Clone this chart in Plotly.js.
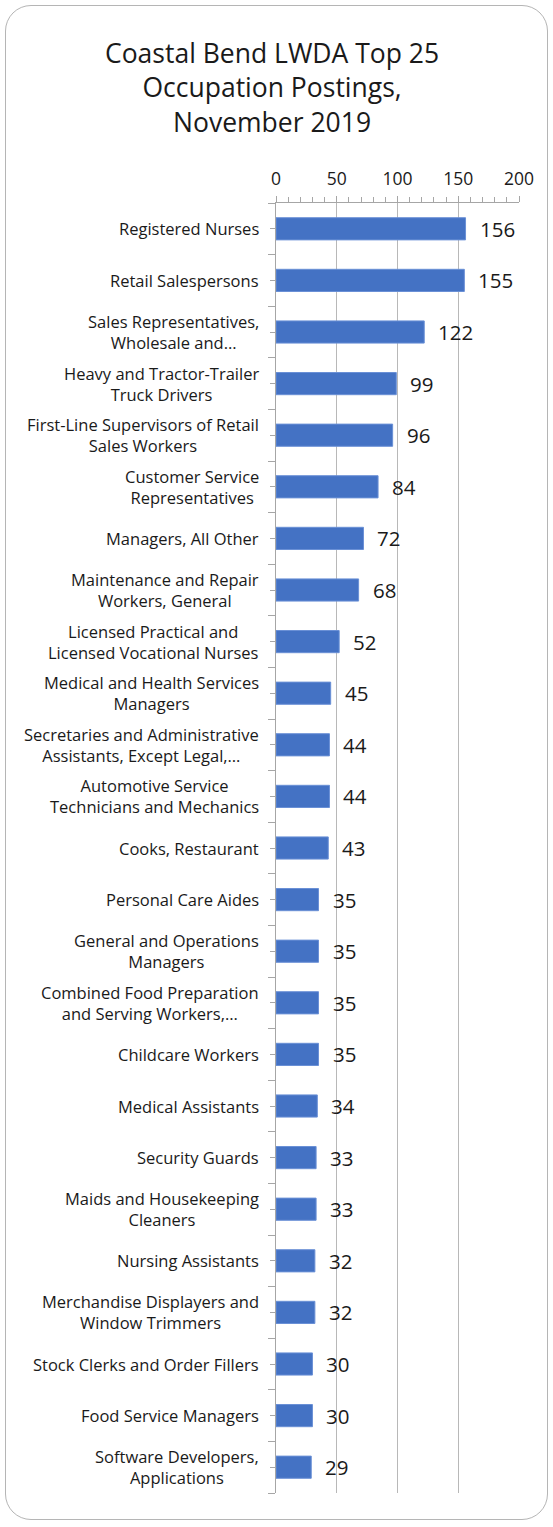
<!DOCTYPE html>
<html>
<head>
<meta charset="utf-8">
<script src="https://cdn.plot.ly/plotly-3.0.1.min.js"></script>
<style>
  html, body { margin: 0; padding: 0; background: #fff; }
  #wrap { position: relative; width: 553px; height: 1527px; }
  #chart { position: absolute; left: 0; top: 0; width: 553px; height: 1527px; }
  #frame { position: absolute; left: 5px; top: 5px; width: 541px; height: 1513px;
           border: 1.5px solid #b5b5b5; border-radius: 26px; pointer-events: none; }
</style>
</head>
<body>
<div id="wrap">
  <div id="chart"></div>
  <div id="frame"></div>
</div>
<script>
const categories = [
  "Registered Nurses",
  "Retail Salespersons",
  "Sales Representatives,<br>Wholesale and…",
  "Heavy and Tractor-Trailer<br>Truck Drivers",
  "First-Line Supervisors of Retail<br>Sales Workers",
  "Customer Service<br>Representatives",
  "Managers, All Other",
  "Maintenance and Repair<br>Workers, General",
  "Licensed Practical and<br>Licensed Vocational Nurses",
  "Medical and Health Services<br>Managers",
  "Secretaries and Administrative<br>Assistants, Except Legal,…",
  "Automotive Service<br>Technicians and Mechanics",
  "Cooks, Restaurant",
  "Personal Care Aides",
  "General and Operations<br>Managers",
  "Combined Food Preparation<br>and Serving Workers,…",
  "Childcare Workers",
  "Medical Assistants",
  "Security Guards",
  "Maids and Housekeeping<br>Cleaners",
  "Nursing Assistants",
  "Merchandise Displayers and<br>Window Trimmers",
  "Stock Clerks and Order Fillers",
  "Food Service Managers",
  "Software Developers,<br>Applications"
];
const postings = [156, 155, 122, 99, 96, 84, 72, 68, 52, 45, 44, 44, 43, 35, 35, 35, 35, 34, 33, 33, 32, 32, 30, 30, 29];
const xTickValues = [0, 50, 100, 150, 200];

const positions = categories.map((_, i) => i);
const FONT = "'Open Sans', sans-serif";
const TEXT = '#1a1a1a';

const trace = {
  type: 'bar',
  orientation: 'h',
  x: postings,
  y: positions,
  width: 0.43,
  marker: { color: '#4472C4', line: { color: '#6a90d6', width: 1 } },
  hoverinfo: 'none'
};

const valueLabels = postings.map((v, i) => ({
  x: v, y: i, xref: 'x', yref: 'y',
  text: String(v), showarrow: false,
  xanchor: 'left', yanchor: 'middle', xshift: 12, yshift: 0,
  font: { family: FONT, size: 20.5, color: TEXT }
}));

const categoryLabels = categories.map((c, i) => ({
  x: 0, y: i, xref: 'x', yref: 'y',
  text: c, showarrow: false, align: 'center',
  xanchor: 'right', yanchor: 'middle', xshift: -15,
  font: { family: FONT, size: 16.5, color: TEXT }
}));

const layout = {
  width: 553, height: 1527,
  margin: { l: 276, r: 34, t: 203, b: 34 },
  paper_bgcolor: '#fff', plot_bgcolor: '#fff',
  showlegend: false,
  title: {
    text: 'Coastal Bend LWDA Top 25<br>Occupation Postings,<br>November 2019',
    font: { family: FONT, size: 26.5, color: TEXT },
    x: 0.492, xanchor: 'center', xref: 'container',
    y: 1 - 63 / 1527, yanchor: 'middle', yref: 'container'
  },
  xaxis: {
    side: 'top', range: [0, 200],
    tickmode: 'array', tickvals: xTickValues,
    ticks: 'outside', ticklen: 6, tickcolor: '#a6a6a6', tickwidth: 1,
    minor: { ticks: 'outside', ticklen: 5, dtick: 10, tick0: 0, tickcolor: '#a6a6a6', showgrid: false },
    showline: true, linecolor: '#a6a6a6', linewidth: 1,
    showgrid: true, gridcolor: '#b8b8b8', gridwidth: 1,
    zeroline: false,
    tickfont: { family: FONT, size: 17.5, color: TEXT },
    ticklabelstandoff: 4,
    fixedrange: true
  },
  yaxis: {
    range: [24.5, -0.5], autorange: false,
    tickmode: 'array', tickvals: positions, ticktext: categories,
    showticklabels: false,
    ticks: 'outside', ticklen: 5, tickcolor: '#a6a6a6',
    minor: { ticks: 'outside', ticklen: 7, dtick: 1, tick0: 0.5, tickcolor: '#a6a6a6', showgrid: false },
    showline: true, linecolor: '#a6a6a6', linewidth: 1,
    showgrid: false, zeroline: false,
    fixedrange: true
  },
  annotations: valueLabels.concat(categoryLabels),
  bargap: 0.57
};

Plotly.newPlot('chart', [trace], layout, { displayModeBar: false, staticPlot: true });
</script>
</body>
</html>
